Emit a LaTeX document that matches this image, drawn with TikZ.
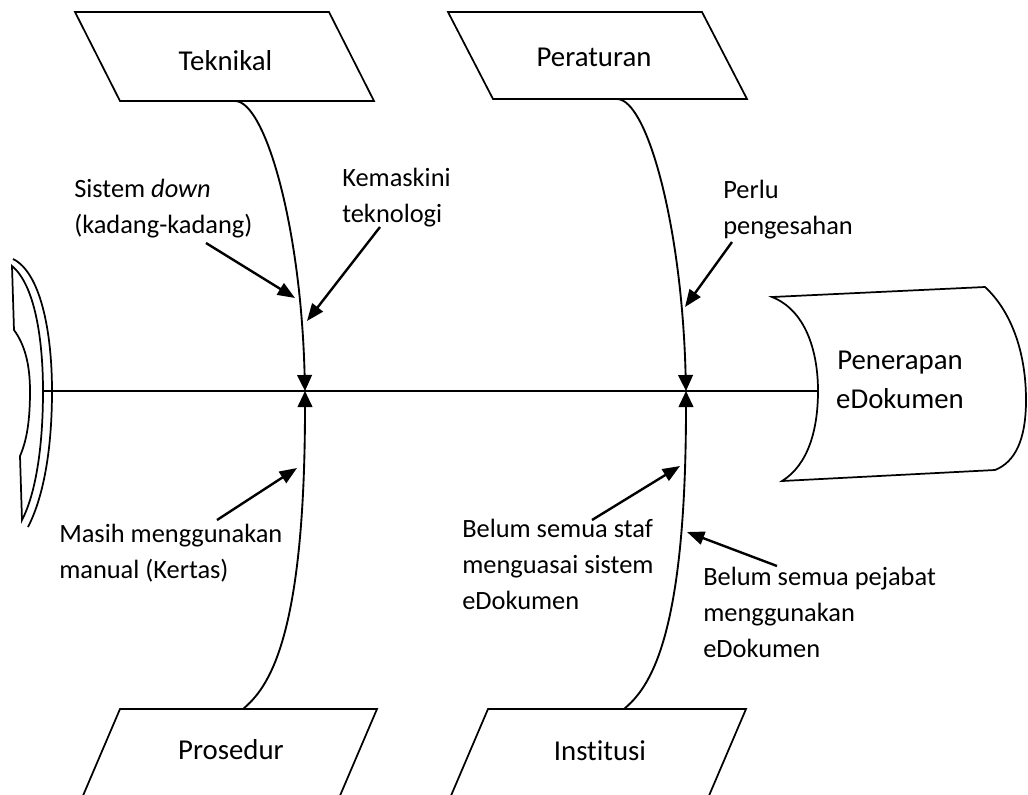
\documentclass[tikz,border=0pt]{standalone}
\usepackage{fontspec}
\setmainfont{Carlito}[Ligatures=NoCommon]
\usetikzlibrary{arrows.meta}
\tikzset{
  catbox/.style={line width=1.3pt,line join=miter},
  catlbl/.style={anchor=base,inner sep=0pt,font=\fontsize{21.6}{26}\selectfont},
  lbl/.style={anchor=base west,align=left,inner sep=0pt,font=\fontsize{19.8}{27}\selectfont},
  headlbl/.style={anchor=base,align=center,inner sep=0pt,font=\fontsize{21.6}{29.25}\selectfont},
  outline/.style={line width=1.3pt},
  spine/.style={line width=1.1pt},
  bone/.style={line width=1.4pt,-{Triangle[length=12pt,width=11pt]}},
  arr/.style={line width=1.8pt,-{Triangle[length=13pt,width=10pt]}}
}

\begin{document}
\begin{tikzpicture}[x=0.75pt,y=-0.75pt]
  \useasboundingbox (0,0) rectangle (1028,794);
  \clip (0,0) rectangle (1028,794);

  %% Category boxes
  \draw[catbox] (75,12) -- (329,12) -- (374,101) -- (120,101) -- cycle;
  \draw[catbox] (448,12) -- (702,12) -- (747,99) -- (493,99) -- cycle;
  \draw[catbox] (120,709) -- (377,709) -- (339,798) -- (82,798) -- cycle;
  \draw[catbox] (488,709) -- (746,709) -- (708,798) -- (450,798) -- cycle;
  \node[catlbl] (teknikal) at (225.5,70) {Teknikal};
  \node[catlbl] (peraturan) at (594,66) {Peraturan};
  \node[catlbl] (prosedur) at (231,759) {Prosedur};
  \node[catlbl] (institusi) at (600,760) {Institusi};

  %% Head and tail
  \draw[outline] (772,297) -- (985,287) .. controls (1010,310) and (1026,350) .. (1026,400)
    .. controls (1026,440) and (1015,462) .. (995,470) -- (782,481)
    .. controls (808,465) and (818,430) .. (818,391) .. controls (818,350) and (805,310) .. (772,297) -- cycle;
  \node[headlbl] (penerapan) at (900,408) {Penerapan\\eDokumen};
  \draw[outline] (13,259) .. controls (40,272) and (52,330) .. (52,391) .. controls (52,455) and (42,500) .. (28,527);
  \draw[outline] (12,266) .. controls (35,285) and (43,340) .. (43,391) .. controls (43,450) and (35,495) .. (22,520)
    -- (20,456) .. controls (27,440) and (30,420) .. (30,391) .. controls (30,365) and (25,345) .. (14,330) -- cycle;

  %% Spine
  \coordinate (tailjoin) at (43,391);
  \coordinate (headjoin) at (818,391);
  \coordinate (jointA) at (305,391);
  \coordinate (jointB) at (686,391);
  \draw[spine] (tailjoin) -- (headjoin);

  %% Bones
  \coordinate (teknikalfoot) at (235,101);
  \coordinate (peraturanfoot) at (617,99);
  \coordinate (prosedurfoot) at (243,709);
  \coordinate (institusifoot) at (624,709);
  \draw[bone] (teknikalfoot) .. controls +(30,0) and +(-4,-165) .. (jointA);
  \draw[bone] (peraturanfoot) .. controls +(30,0) and +(-4,-165) .. (jointB);
  \draw[bone] (prosedurfoot) .. controls +(25,-21) and +(0,249) .. (jointA);
  \draw[bone] (institusifoot) .. controls +(25,-21) and +(0,249) .. (jointB);

  %% Causes
  \node[lbl] (sysdown) at (74,233) {Sistem \textit{down}\\(kadang-kadang)};
  \node[lbl] (kemaskini) at (342,222) {Kemaskini\\teknologi};
  \node[lbl] (perlu) at (723,234) {Perlu\\pengesahan};
  \node[lbl] (manual) at (59,578) {Masih menggunakan\\manual (Kertas)};
  \node[lbl] (staf) at (462,609) {Belum semua staf\\menguasai sistem\\eDokumen};
  \node[lbl] (pejabat) at (703,657) {Belum semua pejabat\\menggunakan\\eDokumen};

  \coordinate (sysdownA) at (206,243); \coordinate (sysdownB) at (295,298);
  \coordinate (kemaskiniA) at (380,227); \coordinate (kemaskiniB) at (307,321);
  \coordinate (manualA) at (217,520); \coordinate (manualB) at (297,468);
  \coordinate (perluA) at (732,242); \coordinate (perluB) at (685,307);
  \coordinate (stafA) at (592,520); \coordinate (stafB) at (680,466);
  \coordinate (pejabatA) at (777,566); \coordinate (pejabatB) at (687,532);
  \draw[arr] (sysdownA) -- (sysdownB);
  \draw[arr] (kemaskiniA) -- (kemaskiniB);
  \draw[arr] (manualA) -- (manualB);
  \draw[arr] (perluA) -- (perluB);
  \draw[arr] (stafA) -- (stafB);
  \draw[arr] (pejabatA) -- (pejabatB);
\end{tikzpicture}
\end{document}
